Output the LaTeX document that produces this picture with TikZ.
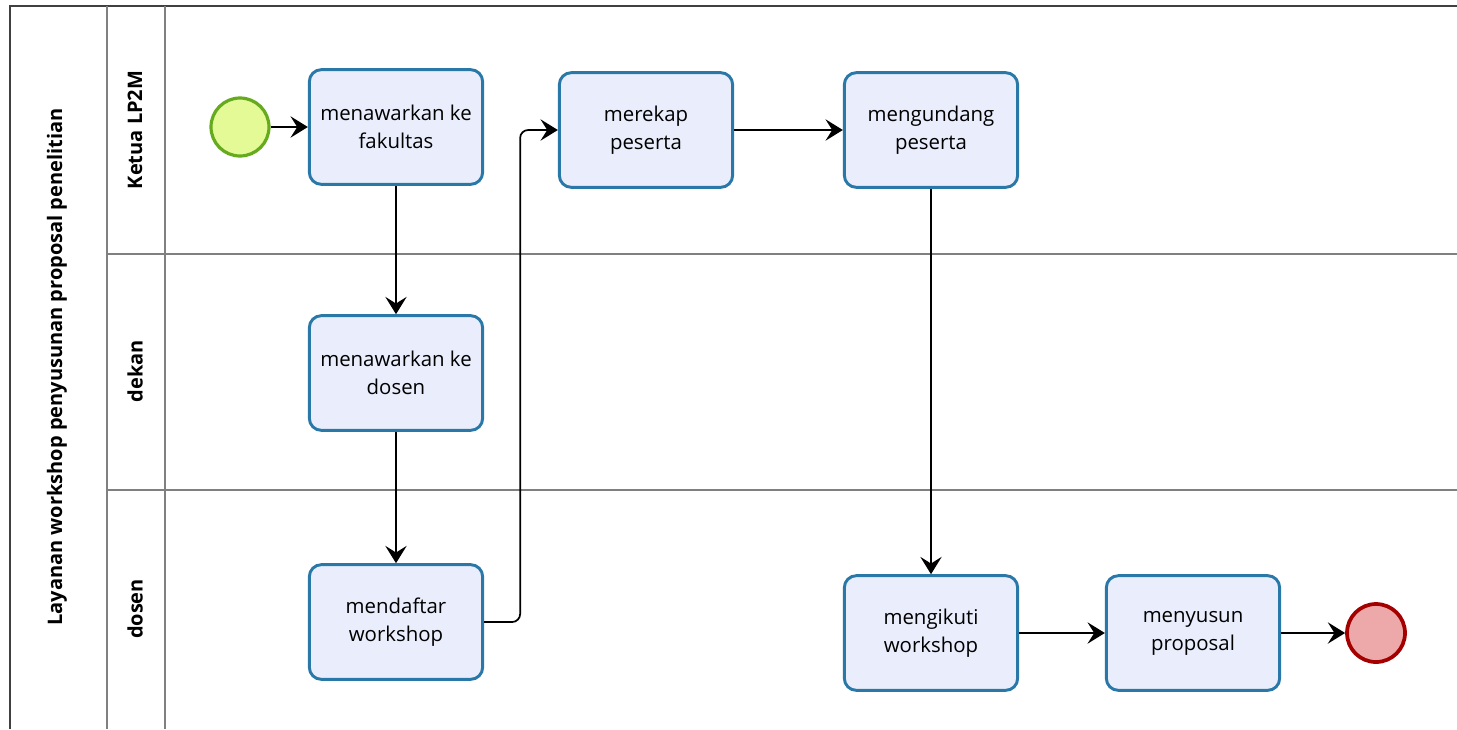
\documentclass[tikz,border=0pt]{standalone}
\usepackage{fontspec}
\setmainfont{Open Sans}
\usetikzlibrary{arrows.meta}

\definecolor{taskfill}{HTML}{EAEEFC}
\definecolor{taskline}{HTML}{2A78A8}
\definecolor{startfill}{HTML}{E4FA96}
\definecolor{startline}{HTML}{66AA1E}
\definecolor{endfill}{HTML}{EDA9A9}
\definecolor{endline}{HTML}{A50000}
\definecolor{laneline}{HTML}{808080}

\tikzset{
  task/.style = {rectangle, rounded corners=9pt, draw=taskline, line width=2.2pt,
                 fill=taskfill, minimum width=130pt, minimum height=86pt,
                 align=center, font=\fontsize{15.3}{21}\selectfont},
  startev/.style = {circle, draw=startline, line width=2.4pt, fill=startfill,
                    minimum size=43.5pt, inner sep=0pt},
  endev/.style = {circle, draw=endline, line width=2.8pt, fill=endfill,
                  minimum size=43.5pt, inner sep=0pt},
  flow/.style = {-{Stealth[length=13pt, width=16pt, inset=5pt]}, line width=1.3pt},
  lane/.style = {draw=laneline, line width=1.5pt},
  lanelabel/.style = {rotate=90, font=\bfseries\fontsize{15}{18}\selectfont}
}

\begin{document}
\begin{tikzpicture}[x=0.75pt, y=-0.75pt]
\useasboundingbox (0,0) rectangle (1457,729);

\draw[line width=1.5pt, draw=black!75] (10,729) -- (10,6) -- (1457,6);
\draw[lane] (107,6) -- (107,729);
\draw[lane] (165,6) -- (165,729);
\draw[lane] (107,254) -- (1457,254);
\draw[lane] (107,490) -- (1457,490);

\path (57,367) node[lanelabel] (pool) {Layanan workshop penyusunan proposal penelitian}
      (135,130) node[lanelabel] (ketua) {Ketua LP2M}
      (135,371) node[lanelabel] (dekan) {dekan}
      (135,609) node[lanelabel] (dosen) {dosen};

\path (240,127) node[startev] (start) {}
      (396,127) node[task] (fak) {menawarkan ke\\fakultas}
      (396,373) node[task] (dsn) {menawarkan ke\\dosen}
      (396,622) node[task] (daftar) {mendaftar\\workshop}
      (646,130) node[task] (rekap) {merekap\\peserta}
      (931,130) node[task] (undang) {mengundang\\peserta}
      (931,633) node[task] (ikut) {mengikuti\\workshop}
      (1193,633) node[task] (susun) {menyusun\\proposal}
      (1376,633) node[endev] (finish) {};

\draw[flow] (start) -- (fak);
\draw[flow] (fak) -- (dsn);
\draw[flow] (dsn) -- (daftar);
\draw[flow, rounded corners=6pt] (daftar.east) -- ++(36,0) |- (rekap.west);
\draw[flow] (rekap) -- (undang);
\draw[flow] (undang) -- (ikut);
\draw[flow] (ikut) -- (susun);
\draw[flow] (susun) -- (finish);

\end{tikzpicture}
\end{document}
